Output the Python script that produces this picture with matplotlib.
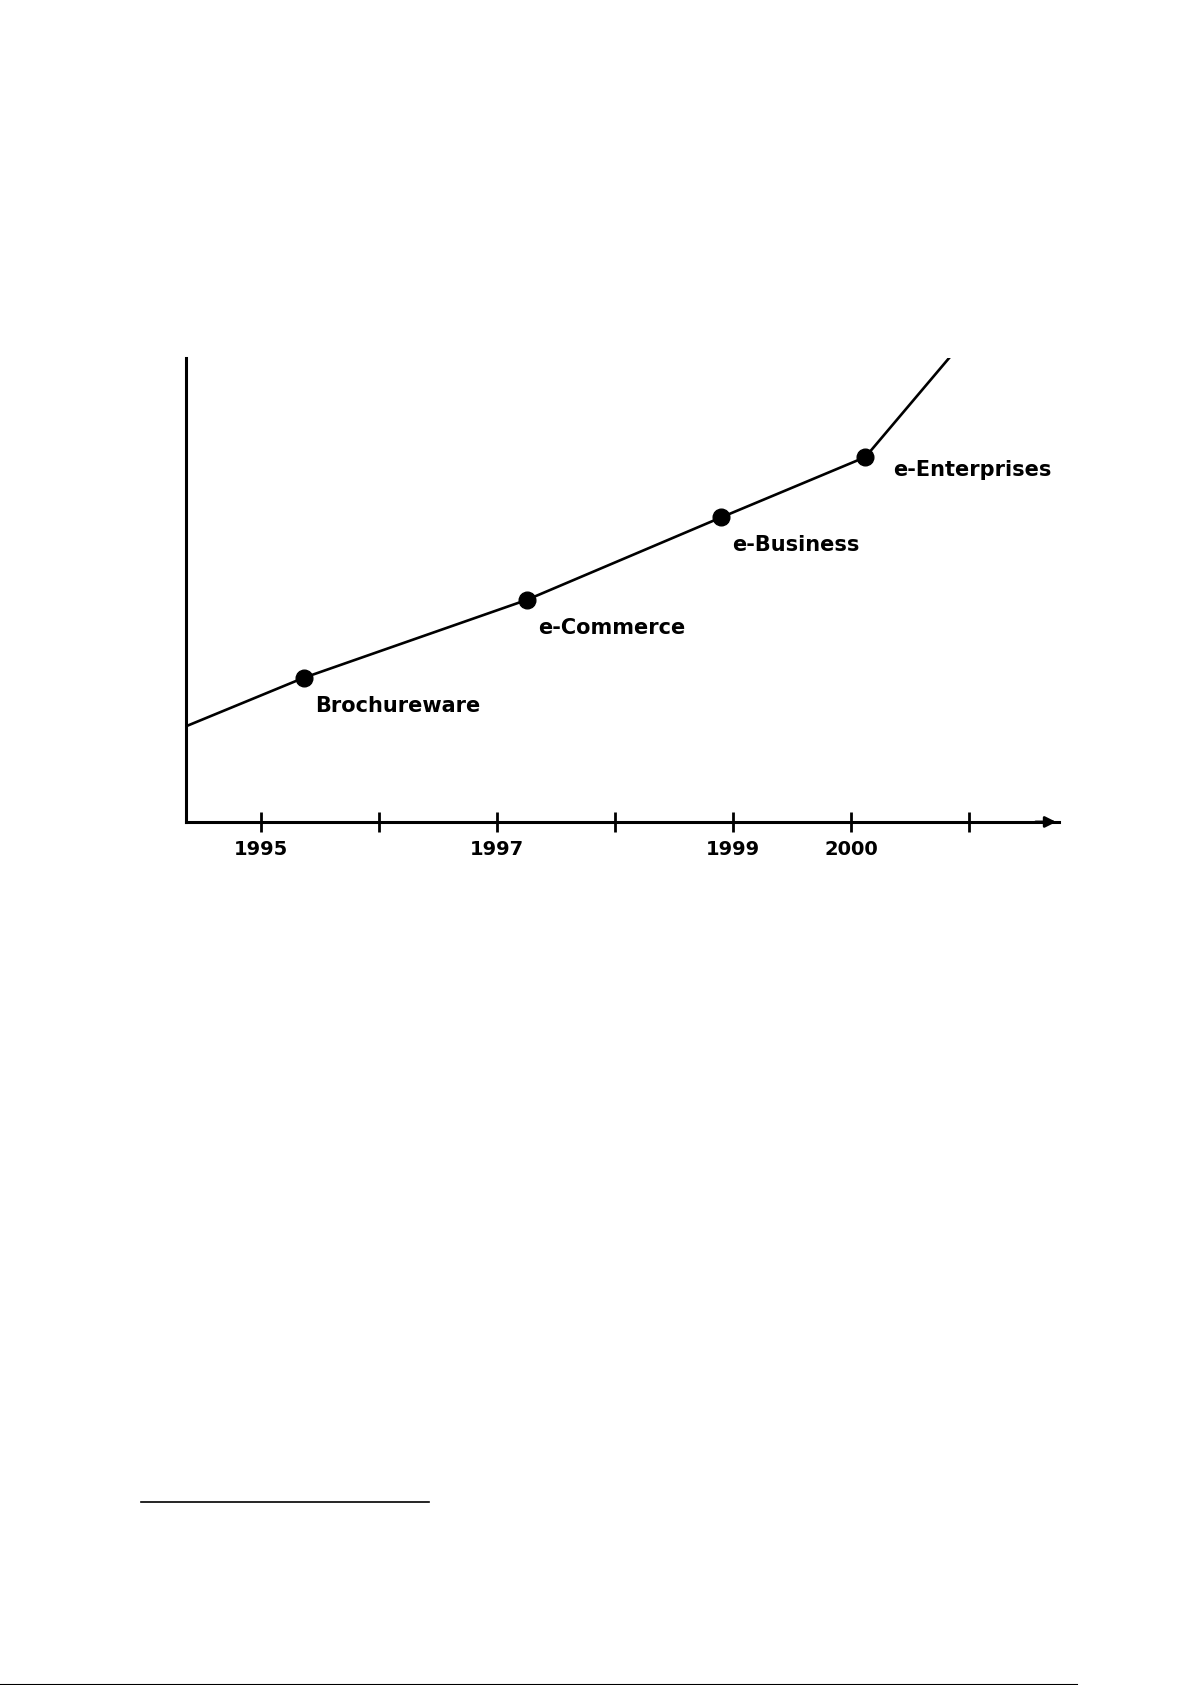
import matplotlib
matplotlib.use("Agg")
import matplotlib.pyplot as plt
from matplotlib.lines import Line2D

# stage positions along the (evenly spaced) time axis, and their height
stages = ['Brochureware', 'e-Commerce', 'e-Business', 'e-Enterprises']
stage_x = [0.36, 2.25, 3.90, 5.12]
stage_y = [1.22, 1.88, 2.58, 3.09]

# line runs in from the y axis and out past the top
line_x = [-0.636] + stage_x + [5.83]
line_y = [0.81] + stage_y + [3.93]

tick_pos = [0, 1, 2, 3, 4, 5, 6]
tick_labels = ['1995', '', '1997', '', '1999', '2000', '']

fig = plt.figure(figsize=(11.92, 16.85), dpi=100)
ax = fig.add_axes([0.156, 0.5122, 0.7324, 0.2754])

ax.plot(line_x, line_y, color='black', linewidth=1.9, clip_on=True)
ax.plot(stage_x, stage_y, 'o', color='black', markersize=12)

# labels sit to the lower right of each marker
offsets = [(8, -20), (8, -20), (8, -20), (20, -9)]
for name, x, y, off in zip(stages, stage_x, stage_y, offsets):
    ax.annotate(name, (x, y), xytext=off, textcoords='offset points',
                ha='left', va='center', fontsize=15, fontweight='bold',
                family='DejaVu Sans')

ax.set_xlim(-0.636, 6.76)
ax.set_ylim(0, 3.93)

for side in ['top', 'right']:
    ax.spines[side].set_visible(False)
ax.spines['left'].set_linewidth(2.2)
ax.spines['bottom'].set_linewidth(2.2)

ax.set_xticks(tick_pos)
ax.set_xticklabels(tick_labels, fontsize=14, fontweight='bold')
ax.tick_params(axis='x', direction='inout', length=14, width=2, pad=6)
ax.set_yticks([])

# arrow head at the end of the time axis
ax.annotate('', xy=(1.0, 0), xytext=(0.97, 0), xycoords='axes fraction',
            arrowprops=dict(arrowstyle='-|>', color='black', lw=2,
                            mutation_scale=16))

# footnote rule and the scan's bottom edge line
fig.add_artist(Line2D([141 / 1192, 429 / 1192], [1 - 1502 / 1685] * 2,
                      color='black', linewidth=1.2))
fig.add_artist(Line2D([0, 1077 / 1192], [0.5 / 1685] * 2,
                      color='black', linewidth=1.5))

plt.savefig('out.png', dpi=100)
